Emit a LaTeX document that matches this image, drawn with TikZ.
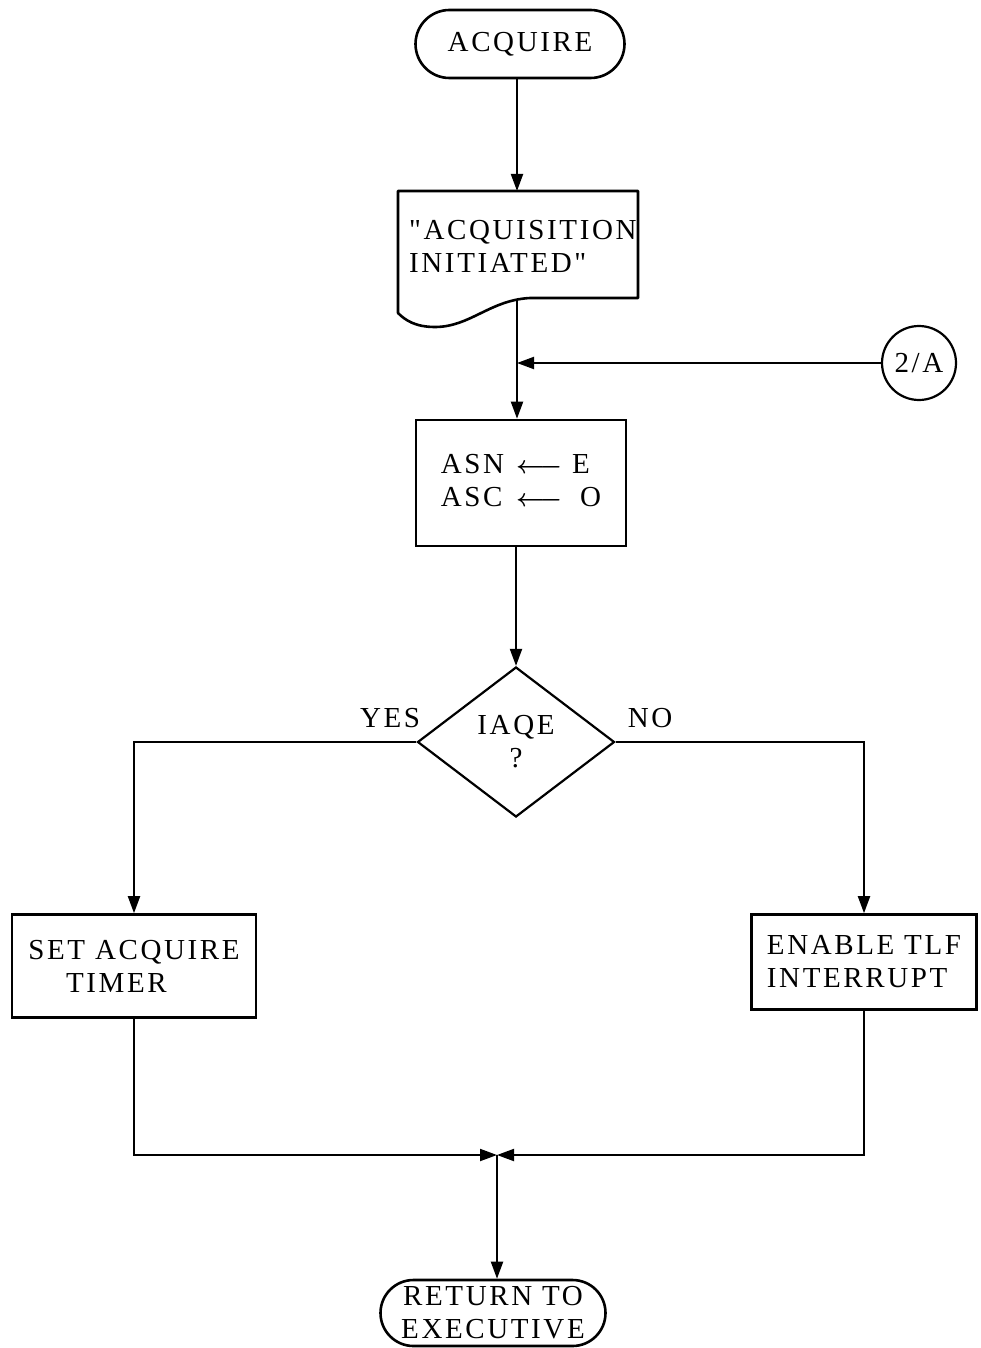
\documentclass[tikz,border=0pt]{standalone}
\usepackage{fontspec}
\newfontfamily\twfont{Liberation Serif}[LetterSpace=9]
\usetikzlibrary{shapes.geometric,shapes.misc,arrows.meta}
\begin{document}
\begin{tikzpicture}[x=1pt,y=-1pt,
  every node/.style={font=\twfont\fontsize{29}{33}\selectfont},
  term/.style={rounded rectangle, draw, line width=2.6pt, inner sep=0pt, align=center},
  proc/.style={rectangle, draw, line width=2.6pt, inner sep=0pt},
  dec/.style={diamond, draw, line width=2.2pt, inner sep=0pt, align=center},
  conn/.style={circle, draw, line width=2.2pt, inner sep=0pt},
  flow/.style={line width=2pt},
  arr/.style={flow, -{Triangle[length=17pt,width=12pt]}},
  lbl/.style={inner sep=0pt}
]
\useasboundingbox (0,0) rectangle (980,1348);

% start terminal
\node[term, minimum width=209pt, minimum height=68pt] (acq) at (520,44) {ACQUIRE};

% document shape
\draw[line width=2.6pt, line join=round]
  (398,191) -- (638,191) -- (638,298) -- (530,298)
  .. controls (490,300) and (470,327) .. (435,327)
  .. controls (415,327) and (405,320) .. (398,313) -- cycle;
\node[lbl, align=left, anchor=west] (doc) at (409,246) {"ACQUISITION\\INITIATED"};
\coordinate (doctop) at (517,191);
\coordinate (docb) at (517,300);

\draw[arr] (acq.south -| doctop) -- (doctop);

% connector 2/A
\node[conn, minimum size=74pt] (c2a) at (919,363) {2/A};
\coordinate (j1) at (517,363);
\draw[flow] (docb) -- (j1);
\draw[arr] (c2a) -- (j1);

% assignment box
\node[proc, minimum width=210pt, minimum height=126pt] (asn) at (521,483)
  {\begin{tabular}{@{}l@{\hspace{12pt}}c@{\hspace{10pt}}l@{}}
   ASN & {\boldmath$\longleftarrow$} & E\\
   ASC & {\boldmath$\longleftarrow$} & \hspace{8pt}O
   \end{tabular}};
\draw[arr] (j1) -- (j1 |- asn.north);

% decision
\node[dec, minimum width=197pt, minimum height=150pt] (iaqe) at (516,742) {IAQE\\?};
\draw[arr] (asn.south -| iaqe.north) -- (iaqe.north);
\node[lbl] (yes) at (390,718) {YES};
\node[lbl] (no) at (650,718) {NO};

% branch boxes
\node[proc, minimum width=244pt, minimum height=103pt, align=left] (setb) at (134,966)
  {SET ACQUIRE\\\hspace*{1.3em}TIMER};
\node[proc, minimum width=225pt, minimum height=95pt, align=left] (enab) at (864,962)
  {ENABLE TLF\\INTERRUPT};
\draw[arr] (iaqe.west) -| (setb.north);
\draw[arr] (iaqe.east) -| (enab.north);

% merge
\coordinate (j2) at (497,1155);
\draw[arr] (setb.south) |- (j2);
\draw[arr] (enab.south) |- (j2);

% end terminal
\node[term, minimum width=225pt, minimum height=66pt] (ret) at (493,1313) {RETURN TO\\EXECUTIVE};
\draw[arr] (j2) -- (j2 |- ret.north);
\end{tikzpicture}
\end{document}
